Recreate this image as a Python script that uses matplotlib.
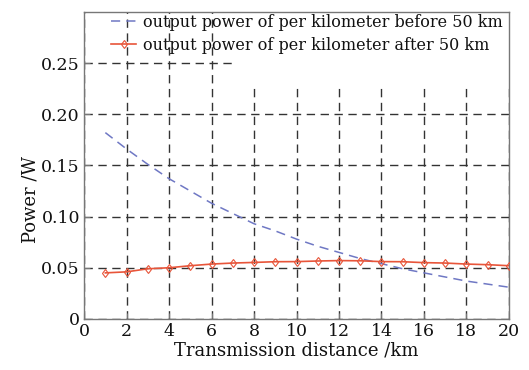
import matplotlib
matplotlib.use("Agg")
import matplotlib.pyplot as plt
from matplotlib.patches import Rectangle

distance = [1, 2, 3, 4, 5, 6, 7, 8, 9, 10, 11, 12, 13, 14, 15, 16, 17, 18, 19, 20]
power_before = [0.182, 0.166, 0.151, 0.137, 0.125, 0.113, 0.103, 0.093, 0.086, 0.078,
                0.071, 0.065, 0.059, 0.054, 0.049, 0.045, 0.041, 0.037, 0.034, 0.031]
power_after = [0.045, 0.046, 0.049, 0.050, 0.052, 0.0536, 0.0546, 0.0552, 0.0559, 0.056,
               0.0566, 0.057, 0.0568, 0.056, 0.0559, 0.055, 0.0546, 0.0536, 0.053, 0.052]
x_ticks = [0, 2, 4, 6, 8, 10, 12, 14, 16, 18, 20]
y_ticks = [0, 0.05, 0.10, 0.15, 0.20, 0.25]
y_labels = ["0", "0.05", "0.10", "0.15", "0.20", "0.25"]

plt.rcParams["font.family"] = "DejaVu Serif"

fig = plt.figure(figsize=(5.29, 3.70), dpi=100)
ax = fig.add_axes([0.159, 0.138, 0.803, 0.830])

ax.plot(distance, power_before, color="#6f78c4", linestyle=(0, (6, 4)), linewidth=1.1,
        label="output power of per kilometer before 50 km", zorder=3)
ax.plot(distance, power_after, color="#e8553a", linewidth=1.2, marker="d",
        markersize=4.5, markerfacecolor="none", markeredgewidth=0.8,
        label="output power of per kilometer after 50 km", zorder=3)

ax.set_xlim(0, 20)
ax.set_ylim(0, 0.3)
ax.set_xticks(x_ticks)
ax.set_yticks(y_ticks)
ax.set_yticklabels(y_labels)
ax.grid(True, color="#333333", linestyle=(0, (6, 4)), linewidth=1.0, zorder=1)
ax.set_axisbelow(True)

# white area behind the legend text hides part of the grid
ax.add_patch(Rectangle((0.35, 0.752), 0.65, 0.248, transform=ax.transAxes,
                       facecolor="white", edgecolor="none", zorder=1.5))

for s in ax.spines.values():
    s.set_color("#777777")
    s.set_linewidth(1.0)
ax.tick_params(direction="in", length=4, color="#777777", labelsize=12.5,
               labelcolor="#111111", pad=3)

ax.set_xlabel("Transmission distance /km", fontsize=13, color="#111111", labelpad=1)
ax.set_ylabel("Power /W", fontsize=13, color="#111111")
ax.yaxis.set_label_coords(-0.105, 0.39)

leg = ax.legend(loc="upper right", bbox_to_anchor=(1.0, 1.015), frameon=False,
                fontsize=11.5, handlelength=1.6, handletextpad=0.4,
                borderaxespad=0.0, labelspacing=0.4)
for t in leg.get_texts():
    t.set_color("#111111")

fig.savefig("out.png", dpi=100)
